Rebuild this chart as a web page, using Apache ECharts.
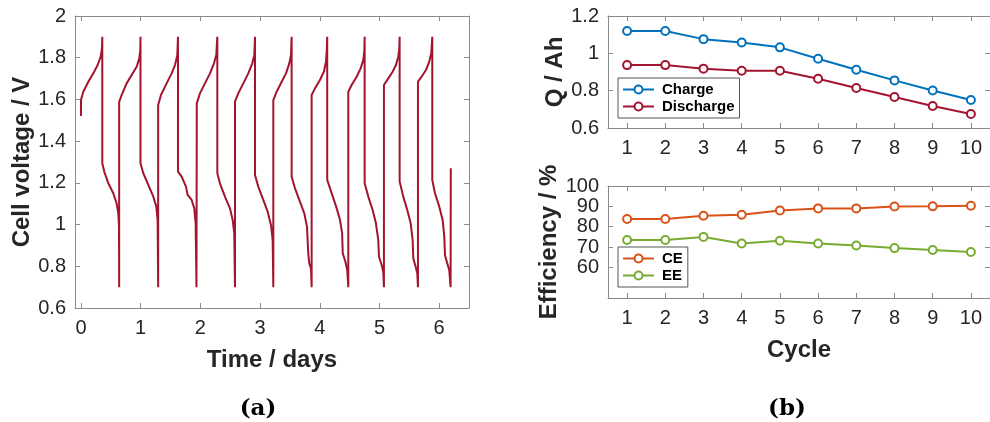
<!DOCTYPE html>
<html>
<head>
<meta charset="utf-8">
<script src="https://cdn.jsdelivr.net/npm/echarts@6/dist/echarts.min.js"></script>
<style>
  html, body { margin: 0; padding: 0; background: #fff; }
  #chart { width: 990px; height: 422px; }
</style>
</head>
<body>
<div id="chart"></div>
<script>
// (a) cell voltage vs time
const timeDays = [
  0, 0, 0.039, 0.123, 0.207, 0.279, 0.33, 0.352, 0.357,
  0.357, 0.39, 0.458, 0.541, 0.597, 0.625, 0.637, 0.64,
  0.64, 0.681, 0.765, 0.849, 0.933, 0.977, 0.994, 0.997,
  0.997, 1.044, 1.128, 1.212, 1.262, 1.284, 1.293,
  1.293, 1.34, 1.435, 1.519, 1.575, 1.614, 1.625,
  1.625, 1.687, 1.759, 1.787, 1.854, 1.898, 1.921, 1.935,
  1.94, 1.94, 1.993, 2.077, 2.161, 2.228, 2.267, 2.284,
  2.284, 2.328, 2.412, 2.496, 2.541, 2.568, 2.58,
  2.58, 2.635, 2.719, 2.803, 2.87, 2.904, 2.915,
  2.915, 2.97, 3.054, 3.127, 3.183, 3.211, 3.222,
  3.222, 3.278, 3.362, 3.434, 3.49, 3.518, 3.529,
  3.529, 3.585, 3.668, 3.741, 3.786, 3.807, 3.824, 3.853, 3.864,
  3.864, 3.92, 4.003, 4.07, 4.104, 4.118, 4.125,
  4.125, 4.19, 4.275, 4.34, 4.375, 4.385, 4.43, 4.46, 4.478,
  4.478, 4.534, 4.618, 4.685, 4.729, 4.746, 4.752,
  4.752, 4.813, 4.886, 4.941, 4.98, 4.992, 5.037, 5.064, 5.075,
  5.075, 5.148, 5.221, 5.276, 5.315, 5.332, 5.338,
  5.338, 5.399, 5.466, 5.523, 5.556, 5.567, 5.606, 5.634, 5.645,
  5.645, 5.706, 5.779, 5.834, 5.868, 5.885,
  5.885, 5.93, 6.002, 6.059, 6.086, 6.097, 6.136, 6.169, 6.192,
  6.195
];
const cellVoltage = [
  1.52, 1.597, 1.637, 1.685, 1.725, 1.765, 1.805, 1.845, 1.9,
  1.294, 1.254, 1.198, 1.15, 1.102, 1.054, 0.99, 0.7,
  1.589, 1.621, 1.677, 1.717, 1.757, 1.797, 1.837, 1.9,
  1.294, 1.246, 1.19, 1.134, 1.086, 1.022, 0.7,
  1.573, 1.621, 1.677, 1.725, 1.765, 1.813, 1.9,
  1.254, 1.23, 1.182, 1.142, 1.118, 1.078, 1.006, 0.7,
  0.7, 1.581, 1.629, 1.677, 1.725, 1.773, 1.813, 1.9,
  1.246, 1.198, 1.134, 1.078, 1.022, 0.958, 0.7,
  1.589, 1.629, 1.677, 1.725, 1.773, 1.813, 1.9,
  1.238, 1.182, 1.118, 1.062, 0.998, 0.926, 0.7,
  1.597, 1.637, 1.685, 1.725, 1.773, 1.813, 1.9,
  1.23, 1.174, 1.11, 1.054, 0.99, 0.862, 0.814, 0.79, 0.7,
  1.621, 1.653, 1.693, 1.733, 1.781, 1.837, 1.9,
  1.214, 1.158, 1.086, 1.022, 0.958, 0.862, 0.822, 0.782, 0.7,
  1.637, 1.669, 1.709, 1.749, 1.789, 1.829, 1.9,
  1.198, 1.134, 1.07, 1.006, 0.926, 0.846, 0.806, 0.774, 0.7,
  1.669, 1.701, 1.733, 1.765, 1.805, 1.845, 1.9,
  1.206, 1.134, 1.07, 1.006, 0.926, 0.838, 0.798, 0.766, 0.7,
  1.685, 1.709, 1.741, 1.781, 1.821, 1.9,
  1.214, 1.15, 1.086, 1.022, 0.942, 0.854, 0.814, 0.782, 0.7,
  1.27
];

// (b) per-cycle capacity and efficiency
const cycles = [1, 2, 3, 4, 5, 6, 7, 8, 9, 10];
const chargeQ = [1.12, 1.12, 1.076, 1.058, 1.032, 0.971, 0.912, 0.855, 0.801, 0.75];
const dischargeQ = [0.937, 0.937, 0.918, 0.907, 0.907, 0.864, 0.814, 0.766, 0.718, 0.675];
const ceValues = [83.8, 83.8, 85.4, 85.9, 88.0, 89.0, 89.0, 89.9, 90.0, 90.3];
const eeValues = [73.5, 73.5, 75.0, 71.8, 73.1, 71.8, 70.8, 69.5, 68.6, 67.6];

const timeTicks = [0, 1, 2, 3, 4, 5, 6];
const effTicks = [60, 70, 80, 90, 100];

const FONT = 'Liberation Sans';
const AXIS_GREY = '#8a8a8a';
const TEXT = '#262626';

const chart = echarts.init(document.getElementById('chart'));

const zip = (xs, ys) => xs.map((x, i) => [x, ys[i]]);

// main axis with labels
function axis(gridIndex, position, extra) {
  return Object.assign({
    type: 'value',
    gridIndex: gridIndex,
    position: position,
    axisLine: { show: true, onZero: false, lineStyle: { color: AXIS_GREY, width: 1 } },
    axisTick: { show: true, inside: true, length: 5, lineStyle: { color: AXIS_GREY } },
    axisLabel: { color: TEXT, fontFamily: FONT, fontSize: 20, margin: 9 },
    splitLine: { show: false },
    nameLocation: 'middle',
    nameTextStyle: { color: TEXT, fontFamily: FONT, fontSize: 24, fontWeight: 'bold' }
  }, extra);
}

// mirror axis for the box (top / right), ticks only
function boxAxis(gridIndex, position, extra) {
  return Object.assign({
    type: 'value',
    gridIndex: gridIndex,
    position: position,
    axisLine: { show: true, onZero: false, lineStyle: { color: AXIS_GREY, width: 1 } },
    axisTick: { show: true, inside: true, length: 5, lineStyle: { color: AXIS_GREY } },
    axisLabel: { show: false },
    splitLine: { show: false }
  }, extra);
}

const cycleAxisOpts = {
  min: 0.5, max: 10.5,
  axisTick: { show: true, inside: true, length: 5, lineStyle: { color: AXIS_GREY }, customValues: cycles },
  axisLabel: { color: TEXT, fontFamily: FONT, fontSize: 20, margin: 10, customValues: cycles }
};

function lineSeries(name, xi, yi, values, color) {
  return {
    name: name,
    type: 'line',
    xAxisIndex: xi,
    yAxisIndex: yi,
    data: zip(cycles, values),
    symbol: 'emptyCircle',
    symbolSize: 8,
    lineStyle: { color: color, width: 2 },
    itemStyle: { color: color, borderWidth: 2 },
    animation: false
  };
}

const legendStyle = {
  orient: 'vertical',
  backgroundColor: '#fff',
  borderColor: '#555',
  borderWidth: 1,
  padding: [4, 5, 4, 4],
  itemGap: 2,
  itemWidth: 31,
  itemHeight: 10,
  textStyle: { color: '#000', fontFamily: FONT, fontSize: 15, fontWeight: 'bold', padding: [0, 0, 0, 3] }
};

const option = {
  backgroundColor: '#fff',
  animation: false,
  grid: [
    { left: 75, top: 16, width: 394, height: 292 },
    { left: 608, top: 16, width: 384, height: 112 },
    { left: 608, top: 186, width: 384, height: 112 }
  ],
  xAxis: [
    axis(0, 'bottom', {
      min: -0.1, max: 6.5, name: 'Time / days', nameGap: 40,
      axisTick: { show: true, inside: true, length: 5, lineStyle: { color: AXIS_GREY }, customValues: timeTicks },
      axisLabel: { color: TEXT, fontFamily: FONT, fontSize: 20, margin: 10, customValues: timeTicks }
    }),
    boxAxis(0, 'top', {
      min: -0.1, max: 6.5,
      axisTick: { show: true, inside: true, length: 5, lineStyle: { color: AXIS_GREY }, customValues: timeTicks }
    }),
    axis(1, 'bottom', Object.assign({}, cycleAxisOpts)),
    boxAxis(1, 'top', { min: 0.5, max: 10.5,
      axisTick: { show: true, inside: true, length: 5, lineStyle: { color: AXIS_GREY }, customValues: cycles } }),
    axis(2, 'bottom', Object.assign({ name: 'Cycle', nameGap: 40 }, cycleAxisOpts)),
    boxAxis(2, 'top', { min: 0.5, max: 10.5,
      axisTick: { show: true, inside: true, length: 5, lineStyle: { color: AXIS_GREY }, customValues: cycles } })
  ],
  yAxis: [
    axis(0, 'left', { min: 0.6, max: 2, interval: 0.2, name: 'Cell voltage / V', nameGap: 39 }),
    boxAxis(0, 'right', { min: 0.6, max: 2, interval: 0.2 }),
    axis(1, 'left', { min: 0.6, max: 1.2, interval: 0.2, name: 'Q / Ah', nameGap: 40 }),
    boxAxis(1, 'right', { min: 0.6, max: 1.2, interval: 0.2 }),
    axis(2, 'left', {
      min: 45, max: 100, name: 'Efficiency / %', nameGap: 43,
      axisTick: { show: true, inside: true, length: 5, lineStyle: { color: AXIS_GREY }, customValues: effTicks },
      axisLabel: { color: TEXT, fontFamily: FONT, fontSize: 20, margin: 9, customValues: effTicks }
    }),
    boxAxis(2, 'right', {
      min: 45, max: 100,
      axisTick: { show: true, inside: true, length: 5, lineStyle: { color: AXIS_GREY }, customValues: effTicks }
    })
  ],
  legend: [
    Object.assign({ data: ['Charge', 'Discharge'], left: 618, top: 78 }, legendStyle),
    Object.assign({ data: ['CE', 'EE'], left: 618, top: 247 }, legendStyle)
  ],
  series: [
    {
      name: 'Voltage',
      type: 'line',
      xAxisIndex: 0,
      yAxisIndex: 0,
      data: zip(timeDays, cellVoltage),
      showSymbol: false,
      lineStyle: { color: '#A2142F', width: 2 },
      itemStyle: { color: '#A2142F' },
      animation: false
    },
    lineSeries('Charge', 2, 2, chargeQ, '#0072BD'),
    lineSeries('Discharge', 2, 2, dischargeQ, '#A2142F'),
    lineSeries('CE', 4, 4, ceValues, '#D95319'),
    lineSeries('EE', 4, 4, eeValues, '#77AC30')
  ],
  graphic: [
    { type: 'text', x: 258, y: 409, style: { text: '(a)', align: 'center', verticalAlign: 'middle',
      fontFamily: 'DejaVu Serif', fontWeight: 'bold', fontSize: 23, fill: '#000' } },
    { type: 'text', x: 787, y: 409, style: { text: '(b)', align: 'center', verticalAlign: 'middle',
      fontFamily: 'DejaVu Serif', fontWeight: 'bold', fontSize: 23, fill: '#000' } }
  ]
};

chart.setOption(option);
</script>
</body>
</html>
